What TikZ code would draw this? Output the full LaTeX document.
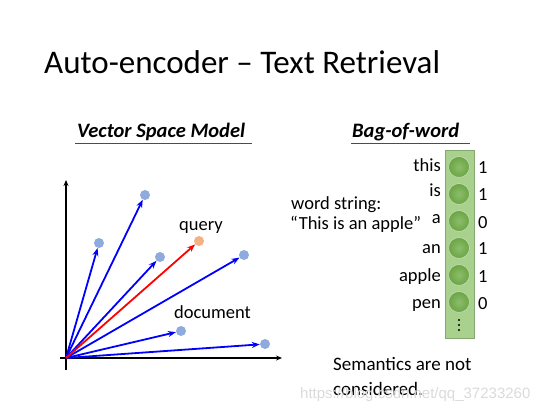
\documentclass[tikz,border=0pt]{standalone}
\usepackage{fontspec}
\setmainfont{Carlito}
\newfontfamily\wmfont{Liberation Sans}
\usetikzlibrary{arrows.meta}
\definecolor{dotblue}{HTML}{8FAADC}
\definecolor{dotorange}{HTML}{F4B183}
\definecolor{barfill}{HTML}{A9D18E}
\definecolor{ballgreen}{HTML}{70AD47}
\begin{document}
\begin{tikzpicture}[x=1pt,y=-1pt,
  vdot/.style={circle,fill=dotblue,inner sep=0pt,minimum size=10pt},
  qdot/.style={circle,fill=dotorange,inner sep=0pt,minimum size=10pt},
  vec/.style={-{Stealth[length=8pt,width=6pt]},line width=1.8pt,blue},
  axis/.style={-{Stealth[length=6pt,width=5pt]},line width=1.2pt,black},
  ball/.style={circle,inner sep=0pt,minimum size=21pt,shading=radial,inner color=ballgreen!80!white,outer color=ballgreen!95!black,draw=ballgreen!45!white,line width=0.7pt},
  tiny/.style={circle,fill=black,inner sep=0pt,minimum size=2.2pt},
  word/.style={anchor=base east,font=\fontsize{18.5}{22}\selectfont,inner sep=0pt},
  num/.style={anchor=base west,font=\fontsize{18.5}{22}\selectfont,inner sep=0pt},
  head/.style={font=\fontsize{20.5}{24}\selectfont\bfseries\itshape,inner sep=0pt,anchor=base west},
  lbl/.style={font=\fontsize{18.5}{22}\selectfont,inner sep=0pt,anchor=base west}]
\useasboundingbox (0,0) rectangle (554,415);
\fill[white] (0,0) rectangle (554,415);

% title
\node[anchor=base west,inner sep=0pt,font=\fontsize{33}{38}\selectfont] (title) at (44,73) {Auto-encoder – Text Retrieval};

% headings
\node[head] (vsm) at (77,137) {Vector Space Model};
\coordinate (u1a) at (75,143); \coordinate (u1b) at (252,143);
\draw[line width=0.8pt,black!70] (u1a) -- (u1b);
\node[head] (bow) at (352,137) {Bag-of-word};
\coordinate (u2a) at (351,143); \coordinate (u2b) at (470,143);
\draw[line width=0.8pt,black!70] (u2a) -- (u2b);

% axes
\coordinate (O) at (66,358);
\coordinate (yb) at (66,370); \coordinate (yt) at (66,180);
\coordinate (xl) at (60,358); \coordinate (xr) at (282,358);
\draw[axis] (yb) -- (yt);
\draw[axis] (xl) -- (xr);

% dots
\node[vdot] (d1) at (145,195) {};
\node[vdot] (d2) at (99,243) {};
\node[vdot] (d3) at (160,257) {};
\node[qdot] (q) at (199,241) {};
\node[vdot] (d4) at (244,255) {};
\node[vdot] (d5) at (181,331) {};
\node[vdot] (d6) at (265,344) {};

\draw[vec] (O) -- (d1);
\draw[vec] (O) -- (d2);
\draw[vec] (O) -- (d3);
\draw[vec] (O) -- (d4);
\draw[vec] (O) -- (d5);
\draw[vec] (O) -- (d6);
\draw[vec,red] (O) -- (q);

\node[lbl] (ql) at (179,230) {query};
\node[lbl] (dl) at (174,318) {document};

% bag of words
\node[draw=barfill!80!black,line width=0.4pt,fill=barfill,minimum width=29pt,minimum height=188pt,inner sep=0pt] (bar) at (460,244) {};
\node[ball] (b1) at (459,167) {};
\node[ball] (b2) at (459,194) {};
\node[ball] (b3) at (459,221) {};
\node[ball] (b4) at (459,248) {};
\node[ball] (b5) at (459,275) {};
\node[ball] (b6) at (459,302) {};
\node[tiny] (v1) at (459,320) {};
\node[tiny] (v2) at (459,325) {};
\node[tiny] (v3) at (459,330) {};

\node[word] (w1) at (441,171) {this};
\node[word] (w2) at (441,196) {is};
\node[word] (w3) at (441,223) {a};
\node[word] (w4) at (441,253) {an};
\node[word] (w5) at (441,281) {apple};
\node[word] (w6) at (441,308) {pen};

\node[num] (n1) at (478,173) {1};
\node[num] (n2) at (478,200) {1};
\node[num] (n3) at (478,228) {0};
\node[num] (n4) at (478,254) {1};
\node[num] (n5) at (478,282) {1};
\node[num] (n6) at (478,309) {0};

\node[lbl] (ws1) at (291,209) {word string:};
\node[lbl] (ws2) at (290,229) {“This is an apple”};

\node[anchor=base west,inner sep=0pt,font=\fontsize{19}{22}\selectfont] (s1) at (333,370) {Semantics are not};
\node[anchor=base west,inner sep=0pt,font=\fontsize{19}{22}\selectfont] (s2) at (333,395) {considered.};

% watermark
\node[anchor=base west,inner sep=0pt,font=\fontsize{15}{18}\wmfont,text=black!14] (wm) at (300,398) {https://blog.csdn.net/qq\_37233260};
\end{tikzpicture}
\end{document}
